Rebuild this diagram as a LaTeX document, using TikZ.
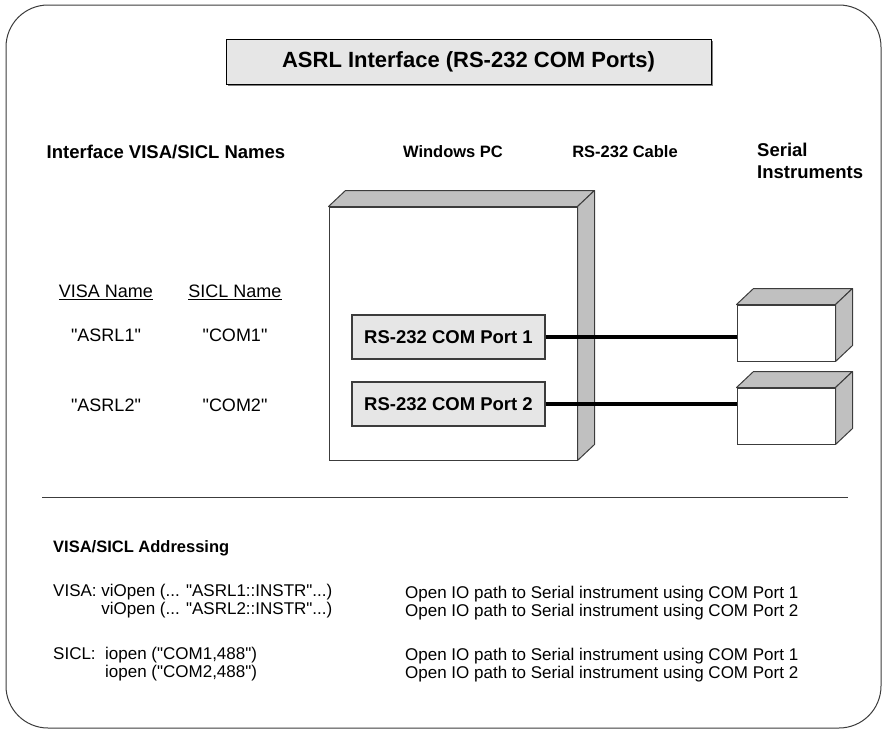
\documentclass[tikz,border=0pt]{standalone}
\usepackage{fontspec}
\setmainfont{Liberation Sans}[Ligatures=TeXOff]
\usetikzlibrary{positioning, calc}
\definecolor{boxgray}{RGB}{230,230,230}
\definecolor{sidegray}{RGB}{192,192,192}
\definecolor{linegray}{RGB}{60,60,60}

\begin{document}
\begin{tikzpicture}[
    x=1pt, y=-1pt,
    head/.style={font=\fontsize{18.5}{22}\selectfont\bfseries, align=left},
    smallhead/.style={font=\fontsize{16.5}{19}\selectfont\bfseries},
    txt/.style={font=\fontsize{18}{21}\selectfont},
    code/.style={font=\fontsize{17}{18}\selectfont, anchor=west, inner sep=0pt},
    port/.style={rectangle, draw=linegray, fill=boxgray, line width=1.2pt,
                 minimum width=193, minimum height=44, inner sep=0pt,
                 font=\fontsize{18.5}{22}\selectfont\bfseries},
    unit/.style={rectangle, draw=linegray, fill=white, line width=1pt, inner sep=0pt},
    face/.style={fill=sidegray, draw=linegray, line width=1pt, line join=round},
    cable/.style={line width=3.5pt, black}
]
\useasboundingbox (0,0) rectangle (887,732);
\draw[linegray, line width=1pt, rounded corners=42] (6,5) rectangle (881,728);

% title
\fill[gray] (228,41) rectangle (713,86);
\node[rectangle, draw=black, fill=boxgray, line width=1pt, minimum width=485, minimum height=45,
      inner sep=0pt, font=\fontsize{22}{26}\selectfont\bfseries] (title) at (468.5,61.5)
      {ASRL Interface (RS-232 COM Ports)};

% column heads
\node[head] (hnames) at (166,152) {Interface VISA/SICL Names};
\node[smallhead] (hpc) at (453,152) {Windows PC};
\node[smallhead] (hcable) at (625,152) {RS-232 Cable};
\node[head, anchor=west, inner sep=0pt] (hinst) at (757,161) {Serial\\Instruments};

% PC and instruments
\node[unit, minimum width=248, minimum height=253] (pc) at (453,333.5) {};
\node[unit, minimum width=98, minimum height=56] (inst1) at (786,333) {};
\node[unit, minimum width=98, minimum height=56] (inst2) at (786,416) {};
\foreach \b in {pc, inst1, inst2} {
  \filldraw[face] (\b.north west) -- ++(17,-16) -- ($(\b.north east)+(17,-16)$) -- (\b.north east) -- cycle;
  \filldraw[face] (\b.north east) -- ++(17,-16) -- ($(\b.south east)+(17,-16)$) -- (\b.south east) -- cycle;
}
\node[port] (port1) at (448.5,337) {RS-232 COM Port 1};
\node[port] (port2) at (448.5,404) {RS-232 COM Port 2};
\draw[cable] (port1.east) -- (port1.east -| inst1.west);
\draw[cable] (port2.east) -- (port2.east -| inst2.west);

% names
\node[txt] (visa) at (106,292) {\underline{VISA Name}};
\node[txt] (sicl) at (235,292) {\underline{SICL Name}};
\node[txt] (asrl1) at (106,335) {"ASRL1"};
\node[txt] (com1) at (235,335) {"COM1"};
\node[txt] (asrl2) at (106,405) {"ASRL2"};
\node[txt] (com2) at (235,405) {"COM2"};

\draw[linegray, line width=1pt] (42,497) -- (848,497);

% addressing
\node[code, font=\fontsize{16.5}{18}\selectfont\bfseries] (addr) at (53,548) {VISA/SICL Addressing};
\node[code] (v1) at (53,592) {VISA: viOpen (... "ASRL1::INSTR"...)};
\node[code] (v2) at (53,610) {\phantom{VISA: }viOpen (... "ASRL2::INSTR"...)};
\node[code] (s1) at (53,655) {SICL:\ \ iopen ("COM1,488")};
\node[code] (s2) at (53,673) {\phantom{SICL:\ \ }iopen ("COM2,488")};
\node[code] (o1) at (405,594) {Open IO path to Serial instrument using COM Port 1};
\node[code] (o2) at (405,612) {Open IO path to Serial instrument using COM Port 2};
\node[code] (o3) at (405,656) {Open IO path to Serial instrument using COM Port 1};
\node[code] (o4) at (405,674) {Open IO path to Serial instrument using COM Port 2};
\end{tikzpicture}
\end{document}
